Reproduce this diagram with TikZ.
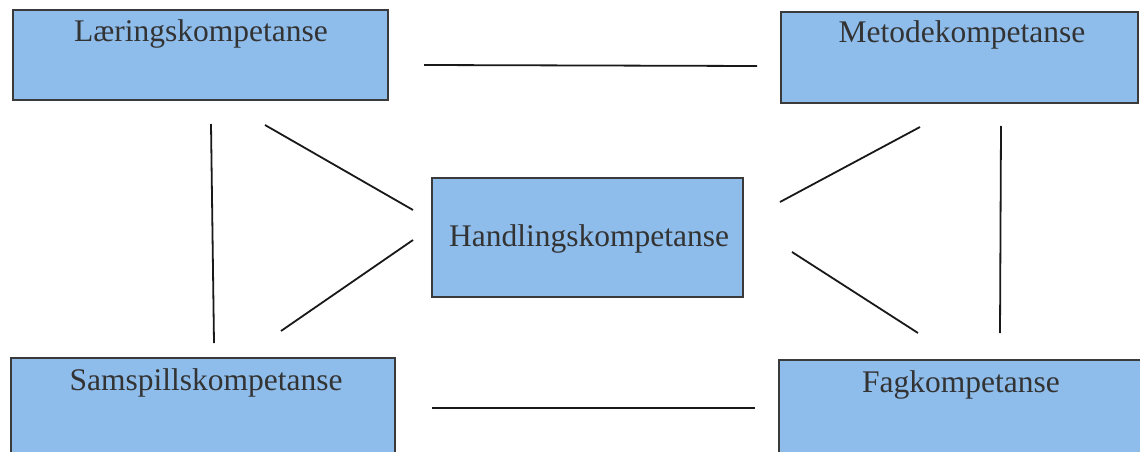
\documentclass[tikz,border=0pt]{standalone}
\usepackage{fontspec}
\setmainfont{Liberation Serif}
\definecolor{boxfill}{HTML}{8EBDEC}
\definecolor{boxline}{HTML}{3A3A3A}
\definecolor{txt}{HTML}{333333}
\begin{document}
\begin{tikzpicture}[x=1pt,y=-1pt,
  kbox/.style={draw=boxline,line width=1.4pt,fill=boxfill,rectangle},
  klabel/.style={font=\fontsize{31.5}{36}\selectfont,text=txt,anchor=base,inner sep=0pt},
  link/.style={line width=1.8pt,draw=black!90}]
\useasboundingbox (0,0) rectangle (1140,452);
\clip (0,0) rectangle (1140,452);
\fill[white] (0,0) rectangle (1140,452);
% boxes
\draw[kbox] (13,10) rectangle (388,100);
\draw[kbox] (781,12) rectangle (1138,103);
\draw[kbox] (432,178) rectangle (743,297);
\draw[kbox] (11,358) rectangle (395,470);
\draw[kbox] (779,360) rectangle (1160,470);
% labels
\node[klabel] (laer) at (201,42) {Læringskompetanse};
\node[klabel] (metode) at (962,43) {Metodekompetanse};
\node[klabel] (hand) at (589,246) {Handlingskompetanse};
\node[klabel] (samspill) at (206,390) {Samspillskompetanse};
\node[klabel] (fag) at (961,392) {Fagkompetanse};
% connector end points
\coordinate (t1) at (424,65);  \coordinate (t2) at (757,66);
\coordinate (b1) at (432,408); \coordinate (b2) at (755,408);
\coordinate (l1) at (211,124); \coordinate (l2) at (214,343);
\coordinate (r1) at (1001,126); \coordinate (r2) at (1000,333);
\coordinate (d1) at (265,125); \coordinate (d2) at (413,210);
\coordinate (e1) at (413,240); \coordinate (e2) at (281,331);
\coordinate (f1) at (780,202); \coordinate (f2) at (920,127);
\coordinate (g1) at (792,252); \coordinate (g2) at (918,333);
\draw[link] (t1) -- (t2);
\draw[link] (b1) -- (b2);
\draw[link] (l1) -- (l2);
\draw[link] (r1) -- (r2);
\draw[link] (d1) -- (d2);
\draw[link] (e1) -- (e2);
\draw[link] (f1) -- (f2);
\draw[link] (g1) -- (g2);
\end{tikzpicture}
\end{document}
